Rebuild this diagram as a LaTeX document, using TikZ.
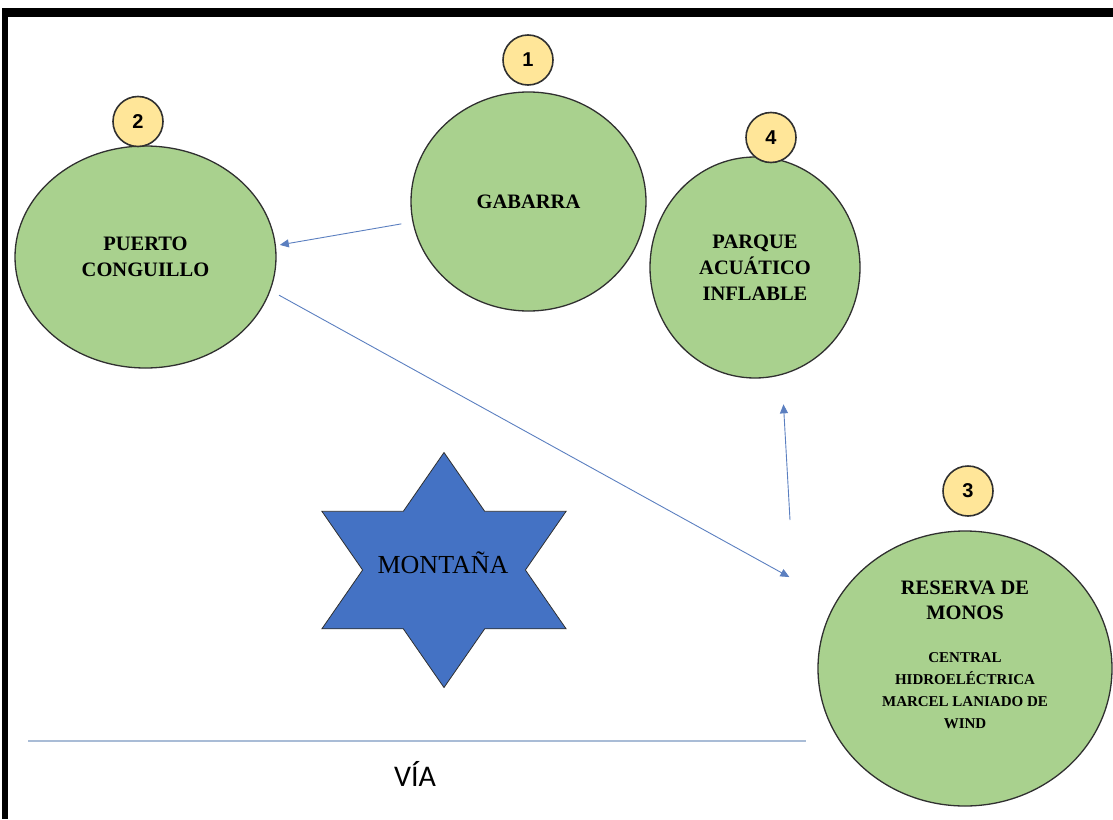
\documentclass[tikz,border=0pt]{standalone}
\usepackage{fontspec}
\setmainfont{Liberation Serif}
\newfontfamily\numfont{Liberation Sans}
\newfontfamily\viafont{Carlito}
\usepackage{xcolor}
\usetikzlibrary{arrows.meta,positioning,shapes.geometric}
\definecolor{placegreen}{HTML}{A9D18E}
\definecolor{badgegold}{HTML}{FFE699}
\definecolor{mountblue}{HTML}{4472C4}
\definecolor{flowblue}{HTML}{5B7FC0}
\definecolor{roadgray}{HTML}{A9BCD6}
\definecolor{edgegray}{HTML}{303030}
\tikzset{%
	place/.style     = {draw=edgegray, line width=1.3pt, ellipse, fill=placegreen, inner sep=0pt, align=center, font=\bfseries\fontsize{20.5}{26}\selectfont}, % Site
	placetext/.style = {align=center, font=\bfseries\fontsize{20.5}{25}\selectfont},
	subtext/.style   = {align=center, font=\bfseries\fontsize{15}{22}\selectfont},
	badge/.style     = {draw=edgegray, line width=1.6pt, circle, fill=badgegold, minimum size=50pt, inner sep=0pt, font=\numfont\bfseries\fontsize{20}{22}\selectfont}, % Number
	mountain/.style  = {draw=edgegray, line width=0.8pt, fill=mountblue},
	flow/.style      = {draw=flowblue, line width=0.9pt, -{Triangle[length=9pt,width=8pt]}},
	road/.style      = {draw=roadgray, line width=1.5pt},
}

\begin{document}
\begin{tikzpicture}[x=1pt,y=-1pt]
	\useasboundingbox (0,0) rectangle (1113,819);
	% frame
	\fill[black] (2,8) rectangle (1113,17);
	\fill[black] (2,8) rectangle (7.5,819);
	
	\node [place,minimum width=235pt,minimum height=219pt] (gabarra) at (528.5,201.5) {GABARRA};
	\node [place,minimum width=261pt,minimum height=222pt] (puerto) at (145.5,257) {PUERTO\\CONGUILLO};
	\node [place,minimum width=210pt,minimum height=221pt] (parque) at (755,267.5) {PARQUE\\ACUÁTICO\\INFLABLE};
	\node [place,minimum width=294pt,minimum height=275pt] (reserva) at (965,668.5) {};
	\node [placetext] (reservaname) at (965,600.5) {RESERVA DE\\MONOS};
	\node [subtext] (central) at (965,691) {CENTRAL\\HIDROELÉCTRICA\\MARCEL LANIADO DE\\WIND};
	
	\node [badge] (n1) at (528,60) {1};
	\node [badge] (n2) at (138,121.5) {2};
	\node [badge] (n4) at (771,137.5) {4};
	\node [badge] (n3) at (968,491) {3};
	
	\draw[mountain] (444,452.5) -- (484.7,511.3) -- (566.1,511.3) -- (525.4,570) -- (566.1,628.8) -- (484.7,628.8)
		-- (444,687.5) -- (403.3,628.8) -- (321.9,628.8) -- (362.6,570) -- (321.9,511.3) -- (403.3,511.3) -- cycle;
	\node [anchor=base,font=\fontsize{26}{30}\selectfont] (montana) at (443,573) {MONTAÑA};
	
	\coordinate (rsvout) at (790,520);
	\draw[flow,shorten <=11.3pt,shorten >=3.9pt] (gabarra.190.2) -- (puerto.5.45);
	\draw[flow,shorten <=9.6pt,shorten >=52.5pt] (puerto.-15.47) -- (reserva.153.78);
	\draw[flow,shorten >=29.4pt] (rsvout) -- (parque.-76.9);
	
	\coordinate (roadw) at (28,741);
	\coordinate (roade) at (806,741);
	\draw[road] (roadw) -- (roade);
	\node [font=\viafont\fontsize{30}{32}\selectfont] (via) at (415,774) {VÍA};
\end{tikzpicture}
\end{document}
